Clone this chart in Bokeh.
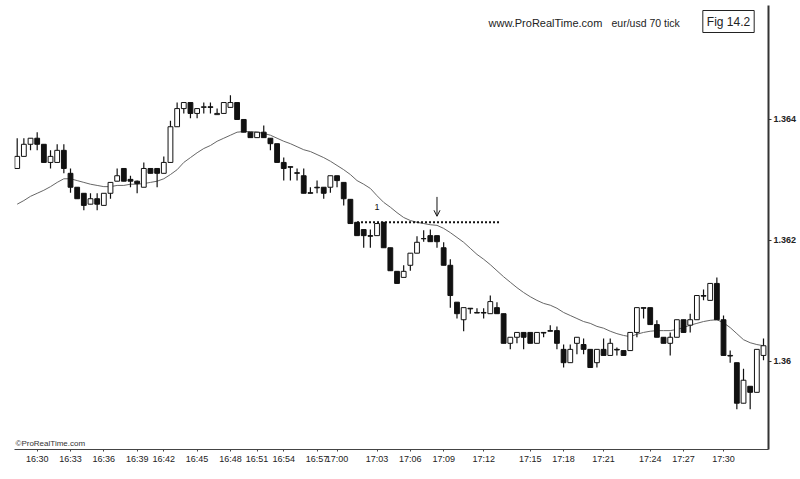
from bokeh.plotting import figure
from bokeh.models import (ColumnDataSource, LinearAxis, FixedTicker, Range1d, Label, Arrow, OpenHead)
from bokeh.embed import file_html
from bokeh.resources import INLINE

opens = [1.36319, 1.36339, 1.36359, 1.36369, 1.36359, 1.36329, 1.36329, 1.36349, 1.36311, 1.36288,
         1.36278, 1.36260, 1.36269, 1.36258, 1.36278, 1.36298, 1.36319, 1.36301, 1.36298, 1.36288,
         1.36319, 1.36319, 1.36311, 1.36329, 1.36388, 1.36418, 1.36428, 1.36410, 1.36420, 1.36421,
         1.36408, 1.36410, 1.36420, 1.36428, 1.36400, 1.36379, 1.36370, 1.36379, 1.36369, 1.36360,
         1.36329, 1.36322, 1.36312, 1.36307, 1.36279, 1.36288, 1.36288, 1.36288, 1.36307, 1.36296,
         1.36268, 1.36230, 1.36218, 1.36208, 1.36208, 1.36230, 1.36188, 1.36149, 1.36139, 1.36159,
         1.36179, 1.36203, 1.36208, 1.36208, 1.36188, 1.36159, 1.36098, 1.36069, 1.36088, 1.36081,
         1.36081, 1.36079, 1.36089, 1.36079, 1.36030, 1.36040, 1.36048, 1.36048, 1.36030, 1.36048,
         1.36051, 1.36051, 1.36020, 1.35998, 1.36030, 1.36028, 1.36020, 1.35998, 1.36020, 1.36010,
         1.36020, 1.36018, 1.36018, 1.36048, 1.36089, 1.36089, 1.36061, 1.36040, 1.36030, 1.36040,
         1.36069, 1.36060, 1.36069, 1.36109, 1.36101, 1.36129, 1.36069, 1.36010, 1.35998, 1.35931,
         1.35959, 1.35949, 1.36010]
highs = [1.36369, 1.36369, 1.36369, 1.36379, 1.36359, 1.36349, 1.36359, 1.36359, 1.36319, 1.36288,
         1.36278, 1.36278, 1.36278, 1.36278, 1.36296, 1.36319, 1.36319, 1.36307, 1.36299, 1.36329,
         1.36319, 1.36319, 1.36339, 1.36398, 1.36428, 1.36428, 1.36428, 1.36418, 1.36428, 1.36428,
         1.36418, 1.36428, 1.36440, 1.36428, 1.36400, 1.36379, 1.36379, 1.36390, 1.36369, 1.36360,
         1.36337, 1.36322, 1.36319, 1.36319, 1.36288, 1.36299, 1.36288, 1.36307, 1.36307, 1.36296,
         1.36268, 1.36230, 1.36218, 1.36218, 1.36228, 1.36230, 1.36188, 1.36149, 1.36159, 1.36179,
         1.36207, 1.36217, 1.36218, 1.36208, 1.36197, 1.36169, 1.36098, 1.36089, 1.36088, 1.36088,
         1.36088, 1.36109, 1.36098, 1.36079, 1.36040, 1.36048, 1.36048, 1.36048, 1.36048, 1.36048,
         1.36060, 1.36058, 1.36028, 1.36028, 1.36040, 1.36038, 1.36020, 1.36020, 1.36038, 1.36038,
         1.36023, 1.36018, 1.36048, 1.36089, 1.36089, 1.36089, 1.36068, 1.36040, 1.36048, 1.36069,
         1.36069, 1.36079, 1.36109, 1.36119, 1.36129, 1.36139, 1.36076, 1.36018, 1.35998, 1.35988,
         1.35959, 1.36020, 1.36038]
lows = [1.36319, 1.36339, 1.36349, 1.36349, 1.36329, 1.36319, 1.36329, 1.36311, 1.36279, 1.36269,
        1.36250, 1.36260, 1.36250, 1.36258, 1.36269, 1.36298, 1.36298, 1.36288, 1.36278, 1.36288,
        1.36311, 1.36288, 1.36311, 1.36329, 1.36388, 1.36410, 1.36402, 1.36402, 1.36410, 1.36410,
        1.36408, 1.36410, 1.36420, 1.36400, 1.36379, 1.36370, 1.36370, 1.36370, 1.36349, 1.36329,
        1.36299, 1.36299, 1.36299, 1.36278, 1.36278, 1.36278, 1.36269, 1.36279, 1.36288, 1.36258,
        1.36228, 1.36208, 1.36188, 1.36188, 1.36208, 1.36188, 1.36150, 1.36129, 1.36139, 1.36150,
        1.36179, 1.36198, 1.36198, 1.36188, 1.36159, 1.36089, 1.36071, 1.36050, 1.36079, 1.36080,
        1.36071, 1.36079, 1.36079, 1.36030, 1.36020, 1.36030, 1.36020, 1.36030, 1.36030, 1.36040,
        1.36050, 1.36020, 1.35990, 1.35998, 1.36012, 1.36012, 1.35990, 1.35990, 1.36010, 1.36010,
        1.36010, 1.36010, 1.36018, 1.36040, 1.36071, 1.36061, 1.36040, 1.36030, 1.36010, 1.36040,
        1.36048, 1.36048, 1.36069, 1.36101, 1.36101, 1.36069, 1.36010, 1.35998, 1.35921, 1.35931,
        1.35921, 1.35949, 1.36002]
closes = [1.36339, 1.36359, 1.36369, 1.36359, 1.36329, 1.36339, 1.36349, 1.36319, 1.36288, 1.36269,
          1.36258, 1.36269, 1.36260, 1.36278, 1.36296, 1.36307, 1.36298, 1.36298, 1.36294, 1.36319,
          1.36311, 1.36311, 1.36329, 1.36388, 1.36418, 1.36428, 1.36410, 1.36418, 1.36421, 1.36420,
          1.36410, 1.36428, 1.36428, 1.36400, 1.36379, 1.36370, 1.36379, 1.36370, 1.36360, 1.36329,
          1.36319, 1.36321, 1.36311, 1.36278, 1.36278, 1.36287, 1.36278, 1.36307, 1.36299, 1.36269,
          1.36228, 1.36208, 1.36208, 1.36207, 1.36228, 1.36188, 1.36150, 1.36129, 1.36149, 1.36179,
          1.36197, 1.36203, 1.36198, 1.36198, 1.36159, 1.36109, 1.36079, 1.36089, 1.36087, 1.36080,
          1.36080, 1.36099, 1.36079, 1.36030, 1.36040, 1.36048, 1.36040, 1.36030, 1.36048, 1.36047,
          1.36050, 1.36030, 1.35998, 1.36020, 1.36040, 1.36020, 1.35990, 1.36020, 1.36010, 1.36030,
          1.36019, 1.36010, 1.36048, 1.36089, 1.36088, 1.36061, 1.36040, 1.36030, 1.36040, 1.36069,
          1.36048, 1.36069, 1.36109, 1.36108, 1.36129, 1.36069, 1.36010, 1.36009, 1.35931, 1.35969,
          1.35949, 1.36020, 1.36026]
ma20 = [1.36260, 1.36266, 1.36273, 1.36278, 1.36283, 1.36289, 1.36296, 1.36302, 1.36302, 1.36299,
        1.36296, 1.36293, 1.36291, 1.36289, 1.36289, 1.36291, 1.36291, 1.36293, 1.36293, 1.36294,
        1.36296, 1.36298, 1.36302, 1.36309, 1.36317, 1.36329, 1.36337, 1.36345, 1.36352, 1.36357,
        1.36364, 1.36369, 1.36374, 1.36379, 1.36380, 1.36380, 1.36379, 1.36377, 1.36374, 1.36369,
        1.36364, 1.36360, 1.36355, 1.36350, 1.36347, 1.36342, 1.36337, 1.36331, 1.36324, 1.36317,
        1.36309, 1.36299, 1.36293, 1.36286, 1.36274, 1.36263, 1.36255, 1.36246, 1.36238, 1.36233,
        1.36230, 1.36228, 1.36226, 1.36225, 1.36220, 1.36213, 1.36205, 1.36197, 1.36187, 1.36177,
        1.36169, 1.36160, 1.36150, 1.36140, 1.36131, 1.36122, 1.36114, 1.36107, 1.36101, 1.36096,
        1.36093, 1.36088, 1.36081, 1.36076, 1.36071, 1.36066, 1.36063, 1.36058, 1.36055, 1.36050,
        1.36046, 1.36043, 1.36041, 1.36045, 1.36048, 1.36050, 1.36051, 1.36051, 1.36051, 1.36053,
        1.36056, 1.36060, 1.36063, 1.36066, 1.36068, 1.36069, 1.36064, 1.36056, 1.36046, 1.36036,
        1.36031, 1.36028, 1.36026]

time_ticks = [3, 8, 13, 18, 22, 27, 32, 36, 40, 45, 48, 54, 59, 64, 70, 77, 82, 88, 95, 100, 106]
time_labels = ["16:30", "16:33", "16:36", "16:39", "16:42", "16:45", "16:48", "16:51", "16:54",
               "16:57", "17:00", "17:03", "17:06", "17:09", "17:12", "17:15", "17:18", "17:21",
               "17:24", "17:27", "17:30"]
price_ticks = [1.360, 1.362, 1.364]
price_labels = ["1.36", "1.362", "1.364"]

breakout_level = 1.3623
breakout_start = 51
breakout_end = 72.5
label_bar = 54
label_price = 1.36256
arrow_bar = 63
arrow_top = 1.36272
arrow_tip = 1.36240

FONT = "Liberation Sans"
INK = "#111111"

n = len(closes)
idx = list(range(n))
up = [c > o for o, c in zip(opens, closes)]
top = [max(o, c) for o, c in zip(opens, closes)]
bot = [min(o, c) for o, c in zip(opens, closes)]

src_all = ColumnDataSource(dict(x=idx, high=highs, low=lows))
src_up = ColumnDataSource(dict(x=[i for i in idx if up[i]], top=[top[i] for i in idx if up[i]],
                               bottom=[bot[i] for i in idx if up[i]]))
src_dn = ColumnDataSource(dict(x=[i for i in idx if not up[i]], top=[top[i] for i in idx if not up[i]],
                               bottom=[bot[i] for i in idx if not up[i]]))

p = figure(width=800, height=479, output_backend="svg", toolbar_location=None,
           x_range=Range1d(-0.405, 112.75), y_range=Range1d(1.358545, 1.365884),
           y_axis_location=None, min_border_left=14, min_border_right=32,
           min_border_top=5, min_border_bottom=30)
p.outline_line_color = None
p.xgrid.visible = False
p.ygrid.visible = False
p.background_fill_color = "white"
p.border_fill_color = "white"

# x axis
xa = p.xaxis[0]
xa.ticker = FixedTicker(ticks=time_ticks)
xa.major_label_overrides = dict(zip(time_ticks, time_labels))
xa.major_tick_out = 2
xa.major_tick_in = 0
xa.minor_tick_line_color = None
xa.axis_line_color = "#444444"
xa.major_tick_line_color = "#444444"
xa.major_label_text_font = FONT
xa.major_label_text_font_size = "9px"
xa.major_label_text_color = "#222222"
xa.major_label_standoff = 2

# right price axis
ya = LinearAxis(ticker=FixedTicker(ticks=price_ticks),
                major_label_overrides=dict(zip(price_ticks, price_labels)))
ya.axis_line_width = 2
ya.axis_line_color = "#333333"
ya.major_tick_out = 3
ya.major_tick_in = 0
ya.major_tick_line_color = "#333333"
ya.minor_tick_line_color = None
ya.major_label_standoff = 2
ya.major_label_text_font = FONT
ya.major_label_text_font_size = "9px"
ya.major_label_text_font_style = "bold"
ya.major_label_text_color = "#222222"
p.add_layout(ya, "right")

# moving average
p.line(idx, ma20, line_color="#666666", line_width=1)

# candles
p.segment(x0="x", y0="low", x1="x", y1="high", source=src_all, line_color=INK, line_width=1.2)
p.vbar(x="x", width=0.72, top="top", bottom="bottom", source=src_up,
       fill_color="white", line_color=INK, line_width=1)
p.vbar(x="x", width=0.72, top="top", bottom="bottom", source=src_dn,
       fill_color=INK, line_color=INK, line_width=1)

# breakout dotted line
p.segment(x0=[breakout_start], y0=[breakout_level], x1=[breakout_end], y1=[breakout_level],
          line_color=INK, line_width=2, line_dash="2 2")

p.add_layout(Label(x=label_bar, y=label_price, text="1", text_font=FONT, text_font_size="9px",
                   text_color="#111111", text_align="center", text_baseline="middle"))
p.add_layout(Arrow(end=OpenHead(size=6, line_width=1, line_color=INK), x_start=arrow_bar,
                   y_start=arrow_top, x_end=arrow_bar, y_end=arrow_tip, line_color=INK, line_width=1))

# header texts
p.add_layout(Label(x=474, y=427, x_units="screen", y_units="screen", text="www.ProRealTime.com",
                   text_font=FONT, text_font_size="11px", text_color="#222222", text_baseline="middle"))
p.add_layout(Label(x=597, y=427, x_units="screen", y_units="screen", text="eur/usd 70 tick",
                   text_font=FONT, text_font_size="10.5px", text_color="#222222", text_baseline="middle"))
p.add_layout(Label(x=714, y=428, x_units="screen", y_units="screen", text="Fig 14.2",
                   text_font=FONT, text_font_size="12px", text_color="#222222", text_align="center",
                   text_baseline="middle", border_line_color="#222222", border_line_width=1,
                   background_fill_color="white", padding=4))
p.add_layout(Label(x=1, y=2, x_units="screen", y_units="screen", text="\u00a9ProRealTime.com",
                   text_font=FONT, text_font_size="8px", text_color="#333333", text_baseline="bottom"))

open("out.html", "w").write(file_html(p, INLINE))
